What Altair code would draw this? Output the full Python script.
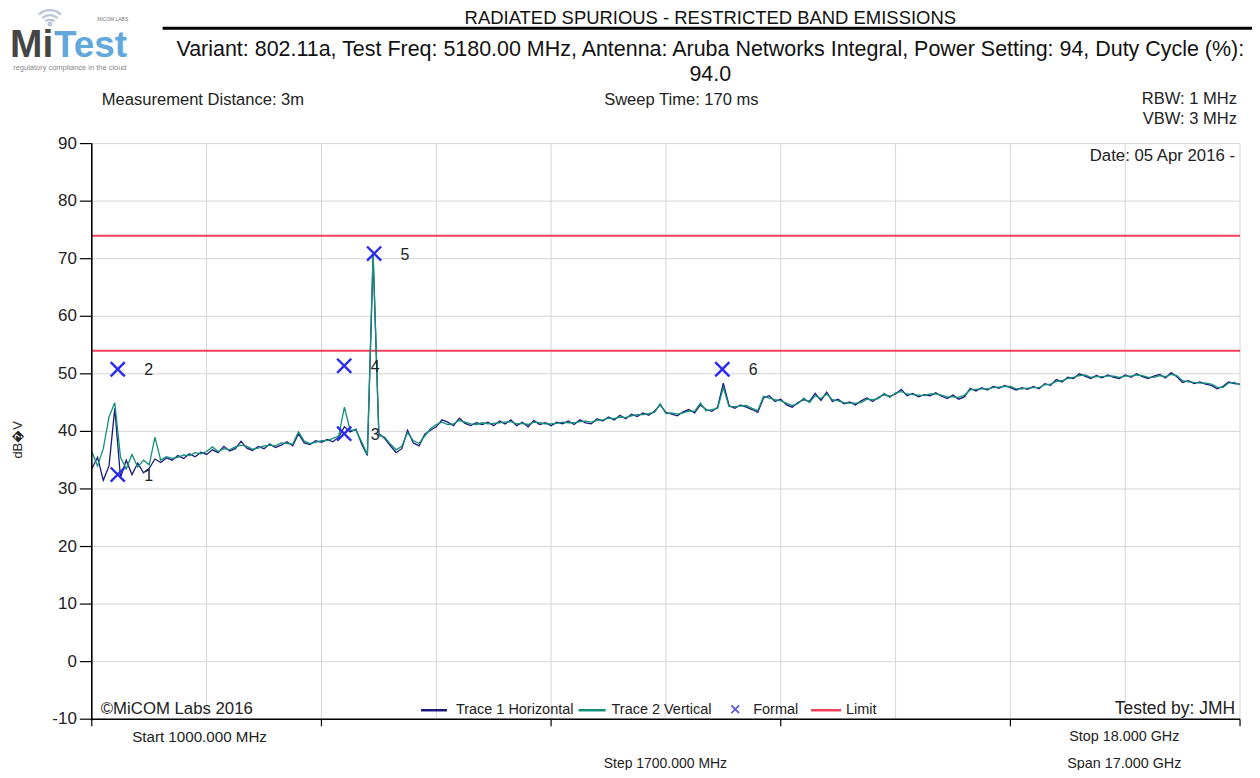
import altair as alt
import pandas as pd

# ---------------- data ----------------
freq_start = 1000.0
freq_step = 85.0

trace1 = [
    33.5, 35.5, 31.5, 34.0, 44.0, 32.0, 35.0, 32.5, 34.5, 32.8,
    33.6, 35.2, 34.6, 35.4, 35.0, 35.8, 35.3, 36.1, 35.6, 36.4,
    36.0, 36.8, 36.3, 37.4, 36.6, 37.0, 38.3, 37.1, 36.7, 37.4,
    37.0, 37.8, 37.2, 37.6, 38.2, 37.5, 39.6, 38.0, 37.7, 38.4,
    38.1, 38.6, 38.2, 39.0, 40.8, 39.9, 40.4, 37.8, 35.8, 70.5,
    39.6, 38.8, 37.5, 36.3, 37.0, 40.2, 38.0, 37.5, 39.5, 40.2,
    40.8, 42.0, 41.6, 41.0, 42.3, 41.4, 41.0, 41.5, 41.2, 41.6,
    41.0, 41.8, 41.3, 42.0, 41.0, 41.6, 40.8, 41.9, 41.2, 41.5,
    41.0, 41.6, 41.3, 41.8, 41.2, 42.0, 41.5, 41.3, 42.2, 41.8,
    42.5, 42.0, 42.8, 42.2, 43.0, 42.6, 43.2, 42.8, 43.5, 44.6,
    43.3, 43.0, 42.7, 43.4, 43.8, 43.2, 44.6, 43.8, 43.5, 44.2,
    48.4, 44.5, 44.0, 44.6, 44.2, 43.8, 43.3, 45.8, 46.2, 45.2,
    45.6, 44.6, 44.2, 45.0, 45.5, 45.2, 46.6, 45.4, 46.8, 45.2,
    45.6, 44.8, 45.1, 44.6, 45.3, 45.8, 45.2, 45.9, 46.4, 46.1,
    46.5, 47.3, 46.2, 46.6, 46.0, 46.4, 46.2, 46.7, 46.1, 45.7,
    46.3, 45.6, 46.0, 47.5, 47.0, 47.6, 47.2, 47.8, 47.5, 48.0,
    47.6, 47.2, 47.6, 47.3, 47.8, 47.4, 48.3, 48.0, 49.0, 48.6,
    49.4, 49.2, 50.0, 49.6, 49.2, 49.7, 49.3, 49.8, 49.4, 49.2,
    49.8, 49.4, 50.0, 49.5, 49.2, 49.6, 49.9, 49.3, 50.2, 49.5,
    48.5, 48.8, 48.3, 48.6, 48.2, 48.0, 47.4, 47.8, 48.6, 48.3, 48.2,
]

trace2 = [
    36.5, 34.0, 37.0, 42.5, 45.0, 35.5, 33.5, 36.0, 33.8, 35.0,
    34.2, 39.0, 35.0, 35.6, 35.3, 35.5, 35.9, 35.8, 36.3, 36.1,
    36.5, 37.3, 36.5, 37.0, 36.8, 37.3, 37.6, 37.4, 36.9, 37.1,
    37.5, 37.6, 37.5, 38.0, 37.9, 37.8, 39.9, 38.3, 37.9, 38.1,
    38.4, 38.4, 38.8, 39.2, 44.2, 40.2, 40.2, 38.2, 36.0, 71.0,
    39.3, 39.0, 37.8, 36.8, 37.4, 39.8, 38.4, 37.9, 39.2, 40.5,
    41.2, 41.6, 41.2, 41.3, 41.9, 41.6, 41.3, 41.2, 41.5, 41.3,
    41.4, 41.5, 41.6, 41.7, 41.3, 41.4, 41.2, 41.6, 41.5, 41.3,
    41.3, 41.4, 41.6, 41.5, 41.5, 41.7, 41.8, 41.6, 41.9, 42.0,
    42.3, 42.2, 42.5, 42.4, 42.7, 42.9, 42.9, 43.1, 43.3, 44.8,
    43.1, 43.2, 43.0, 43.2, 43.5, 43.5, 44.9, 43.6, 43.8, 44.0,
    47.6, 44.3, 44.3, 44.4, 44.5, 44.0, 43.6, 46.1, 45.8, 45.5,
    45.3, 44.9, 44.5, 44.8, 45.8, 45.0, 46.2, 45.7, 46.5, 45.5,
    45.3, 45.0, 44.9, 44.9, 45.0, 45.6, 45.5, 45.7, 46.6, 45.9,
    46.7, 46.9, 46.5, 46.4, 46.3, 46.2, 46.5, 46.5, 46.3, 46.0,
    46.0, 45.9, 46.3, 47.2, 47.3, 47.4, 47.4, 47.6, 47.7, 47.8,
    47.8, 47.4, 47.4, 47.5, 47.6, 47.6, 48.1, 48.2, 48.7, 48.8,
    49.2, 49.4, 49.7, 49.8, 49.4, 49.5, 49.5, 49.6, 49.6, 49.4,
    49.6, 49.6, 49.8, 49.7, 49.4, 49.4, 49.7, 49.5, 49.9, 49.7,
    48.8, 48.6, 48.5, 48.4, 48.4, 48.2, 47.7, 47.6, 48.4, 48.5, 48.1,
]

freqs = [freq_start + freq_step * i for i in range(len(trace1))]

marker_freq = [1384, 1384, 4737, 4737, 5180, 10335]
marker_val = [32.5, 50.8, 39.6, 51.4, 70.9, 50.8]
marker_lbl = ["1", "2", "3", "4", "5", "6"]

limit_vals = [74, 54]

y_ticks = [-10, 0, 10, 20, 30, 40, 50, 60, 70, 80, 90]
y_tick_labels = ["-10", "0", "10", "20", "30", "40", "50", "60", "70", "80", "90"]
x_ticks = [1000, 4400, 7800, 11200, 14600, 18000]
grid_x = [2700, 4400, 6100, 7800, 9500, 11200, 12900, 14600, 16300, 18000]

# ---------------- styling ----------------
W, H = 1151, 577
FONT = "Liberation Sans, Arial, sans-serif"
C_T1 = "#1a1a7e"
C_T2 = "#12907a"
C_LIM = "#f4405a"
C_MK = "#2a2af0"
GRID = "#d6d6d6"

xs = alt.Scale(domain=[1000, 18000], nice=False, zero=False)
ys = alt.Scale(domain=[-10, 90], nice=False, zero=False)

one = pd.DataFrame({"a": [0]})
ydf = pd.DataFrame({"v": y_ticks, "lab": y_tick_labels})

# grid lines
vgrid = alt.Chart(pd.DataFrame({"f": grid_x})).mark_rule(color=GRID, strokeWidth=1).encode(
    x=alt.X("f:Q", scale=xs, axis=None))
hgrid = alt.Chart(ydf).mark_rule(color=GRID, strokeWidth=1).encode(
    y=alt.Y("v:Q", scale=ys, axis=None))

# axes drawn from the scales
ytick = alt.Chart(ydf).mark_rule(color="black", strokeWidth=1.2).encode(
    y=alt.Y("v:Q", scale=ys, axis=None), x=alt.value(-12), x2=alt.value(0))
ylab = alt.Chart(ydf).mark_text(align="right", baseline="middle", font=FONT, fontSize=17,
                                color="#222").encode(
    y=alt.Y("v:Q", scale=ys, axis=None), x=alt.value(-15), text="lab:N")
xtick = alt.Chart(pd.DataFrame({"f": x_ticks})).mark_rule(color="black", strokeWidth=1.2).encode(
    x=alt.X("f:Q", scale=xs, axis=None), y=alt.value(H), y2=alt.value(H + 7))
ydomain = alt.Chart(one).mark_rule(color="black", strokeWidth=1.6).encode(
    x=alt.value(0), y=alt.value(0), y2=alt.value(H + 1))
xdomain = alt.Chart(one).mark_rule(color="black", strokeWidth=1.6).encode(
    x=alt.value(0), x2=alt.value(W), y=alt.value(H))

limits = alt.Chart(pd.DataFrame({"v": limit_vals})).mark_rule(color=C_LIM, strokeWidth=2).encode(
    y=alt.Y("v:Q", scale=ys, axis=None))

df1 = pd.DataFrame({"f": freqs, "v": trace1})
df2 = pd.DataFrame({"f": freqs, "v": trace2})
line1 = alt.Chart(df1).mark_line(color=C_T1, strokeWidth=1.3).encode(
    x=alt.X("f:Q", scale=xs, axis=None), y=alt.Y("v:Q", scale=ys, axis=None))
line2 = alt.Chart(df2).mark_line(color=C_T2, strokeWidth=1.3).encode(
    x=alt.X("f:Q", scale=xs, axis=None), y=alt.Y("v:Q", scale=ys, axis=None))

mdf = pd.DataFrame({"f": marker_freq, "v": marker_val, "t": marker_lbl})
XPATH = "M-1,-1L1,1M-1,1L1,-1"
markers = alt.Chart(mdf).mark_point(shape=XPATH, filled=False, strokeWidth=2.4, size=200,
                                    color=C_MK, opacity=1).encode(
    x=alt.X("f:Q", scale=xs, axis=None), y=alt.Y("v:Q", scale=ys, axis=None))
mlabels = alt.Chart(mdf).mark_text(align="center", baseline="middle", dx=31, dy=1,
                                   font=FONT, fontSize=16, color="#222").encode(
    x=alt.X("f:Q", scale=xs, axis=None), y=alt.Y("v:Q", scale=ys, axis=None), text="t:N")


def txt(s, x, y, size=15, align="left", color="#222", weight="normal", angle=0,
        baseline="middle"):
    kw = dict(align=align, baseline=baseline, font=FONT, fontSize=size, color=color,
              fontWeight=weight)
    if angle:
        kw["angle"] = angle
    return alt.Chart(pd.DataFrame({"t": [s]})).mark_text(**kw).encode(
        x=alt.value(x), y=alt.value(y), text="t:N")


def seg(x1, x2, y, color, width=2.5):
    return alt.Chart(one).mark_rule(color=color, strokeWidth=width).encode(
        x=alt.value(x1), x2=alt.value(x2), y=alt.value(y))


ox, oy = 92, 143  # page position of plot origin

texts = [
    txt("RADIATED SPURIOUS - RESTRICTED BAND EMISSIONS", 712 - ox, 17 - oy, size=18.5,
        align="center", color="#111"),
    txt("Variant: 802.11a, Test Freq: 5180.00 MHz, Antenna: Aruba Networks Integral, Power Setting: 94, Duty Cycle (%):",
        712 - ox, 49 - oy, size=21.5, align="center", color="#111"),
    txt("94.0", 712 - ox, 74 - oy, size=21.5, align="center", color="#111"),
    txt("Measurement Distance: 3m", 102 - ox, 99 - oy, size=16.6),
    txt("Sweep Time: 170 ms", 683 - ox, 99 - oy, size=16.6, align="center"),
    txt("RBW: 1 MHz", 1240 - ox, 98 - oy, size=16.6, align="right"),
    txt("VBW: 3 MHz", 1240 - ox, 118 - oy, size=16.6, align="right"),
    txt("Date: 05 Apr 2016 -", 1238 - ox, 155 - oy, size=16.8, align="right"),
    txt("\u00a9MiCOM Labs 2016", 101 - ox, 710 - oy, size=16.8),
    txt("Tested by: JMH", 1238 - ox, 710 - oy, size=17.5, align="right"),
    txt("Start 1000.000 MHz", 200 - ox, 738 - oy, size=15.2, align="center"),
    txt("Stop 18.000 GHz", 1127 - ox, 738 - oy, size=14.4, align="center"),
    txt("Step 1700.000 MHz", 667 - ox, 765 - oy, size=14, align="center"),
    txt("Span 17.000 GHz", 1127 - ox, 765 - oy, size=14.4, align="center"),
    txt("dB\ufffdV", 18 - ox, 440 - oy, size=13, align="center", angle=270),
    # legend
    txt("Trace 1 Horizontal", 457 - ox, 711 - oy, size=14.5),
    txt("Trace 2 Vertical", 613 - ox, 711 - oy, size=14.5),
    txt("Formal", 755 - ox, 711 - oy, size=14.5),
    txt("Limit", 848 - ox, 711 - oy, size=14.5),
    # logo
    txt("Mi", 10 - ox, 56 - oy, size=39, weight="bold", color="#454545", baseline="alphabetic"),
    txt("Test", 54 - ox, 56 - oy, size=37, weight="bold", color="#62a8dc", baseline="alphabetic"),
    txt("MiCOM LABS", 113 - ox, 18 - oy, size=5, align="center", color="#777"),
    txt("regulatory compliance in the cloud", 70 - ox, 67 - oy, size=7.5, align="center",
        color="#888"),
]

legend = [
    seg(422 - ox, 448 - ox, 711 - oy, C_T1),
    seg(580 - ox, 607 - ox, 711 - oy, C_T2),
    seg(813 - ox, 843 - ox, 711 - oy, C_LIM),
    alt.Chart(one).mark_point(shape=XPATH, filled=False, strokeWidth=1.8, size=60,
                              color="#5a5ad6", opacity=1).encode(
        x=alt.value(737 - ox), y=alt.value(710 - oy)),
    seg(163 - ox, 1258 - ox, 27.5 - oy, "#000", 3),
]

arcs = []
for r in [17, 12, 7.5]:
    arcs.append(alt.Chart(one).mark_arc(innerRadius=r - 2.4, outerRadius=r, theta=5.5,
                                        theta2=7.07, color="#b9c6d6").encode(
        x=alt.value(50 - ox), y=alt.value(25 - oy)))
arcs.append(alt.Chart(one).mark_arc(innerRadius=0, outerRadius=2.5, theta=0, theta2=6.28,
                                    color="#b9c6d6").encode(
    x=alt.value(50 - ox), y=alt.value(23 - oy)))

chart = alt.layer(
    vgrid, hgrid, limits, line1, line2, markers, mlabels,
    ytick, ylab, xtick, ydomain, xdomain, *legend, *texts, *arcs
).properties(
    width=W, height=H,
    padding={"left": 84, "top": 135, "right": 12, "bottom": 50},
    autosize=alt.AutoSizeParams(type="none"),
    background="white",
).configure_view(stroke=None)

chart.save("out.html", embed_options={"renderer": "svg", "actions": False})
